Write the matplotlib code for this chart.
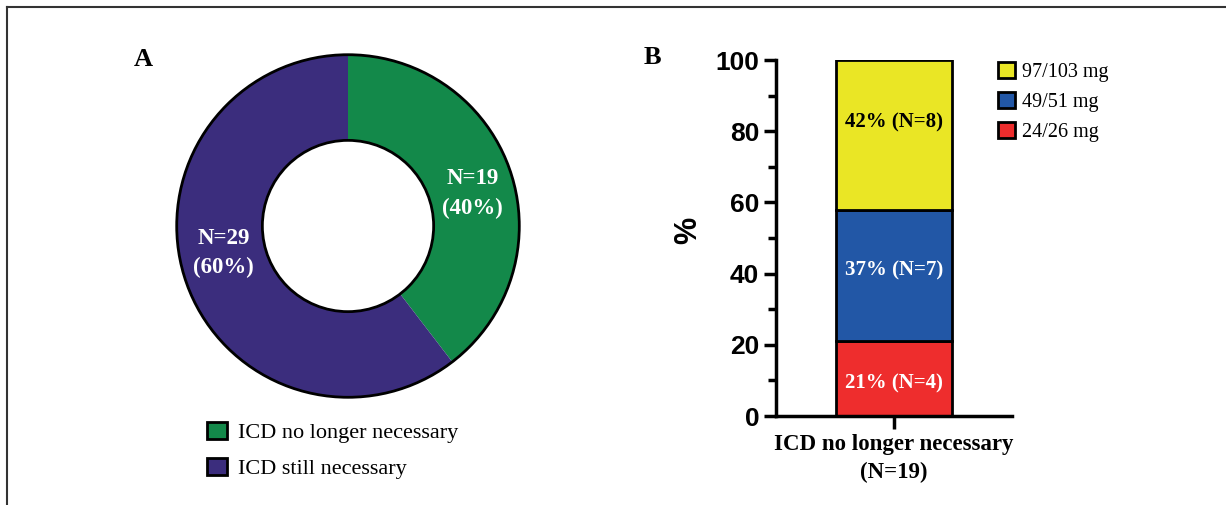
import matplotlib
matplotlib.use("Agg")
import matplotlib.pyplot as plt
from matplotlib.patches import Patch, Circle
from matplotlib.lines import Line2D

# ---- data ----
donut_labels = ["ICD no longer necessary", "ICD still necessary"]
donut_counts = [19, 29]
donut_pct = [40, 60]
donut_colors = ["#13894A", "#3B2D7D"]

dose_labels = ["24/26 mg", "49/51 mg", "97/103 mg"]
dose_counts = [4, 7, 8]
dose_pct_text = [21, 37, 42]
dose_colors = ["#EE2D2D", "#2257A6", "#EAE625"]
dose_text_colors = ["white", "white", "black"]
bar_category = "ICD no longer necessary\n(N=19)"
yticks_major = [0, 20, 40, 60, 80, 100]
yticks_minor = [10, 30, 50, 70, 90]

SERIF = ["Liberation Serif", "DejaVu Serif"]
SANS = ["Liberation Sans", "DejaVu Sans"]

W, H = 1226, 505
fig = plt.figure(figsize=(W / 100, H / 100), dpi=100)

# frame lines (top and left)
fig.add_artist(Line2D([7 / W, 1.0], [1 - 7 / H, 1 - 7 / H], color="#333333", lw=1.5, transform=fig.transFigure))
fig.add_artist(Line2D([7 / W, 7 / W], [0, 1 - 7 / H], color="#333333", lw=1.5, transform=fig.transFigure))

# ---- Panel A: donut ----
cx, cy, r = 348, 226, 173
axA = fig.add_axes([(cx - r) / W, 1 - (cy + r) / H, 2 * r / W, 2 * r / H])
wedges, _ = axA.pie(donut_counts, colors=donut_colors, startangle=90, counterclock=False,
                    radius=1.0, wedgeprops=dict(width=0.5, edgecolor="none", linewidth=0))
axA.add_patch(Circle((0, 0), 1.0, fill=False, ec="black", lw=2))
axA.add_patch(Circle((0, 0), 0.5, fill=False, ec="black", lw=2))
axA.set_xlim(-1.01, 1.01)
axA.set_ylim(-1.01, 1.01)
axA.set_aspect("equal")
axA.axis("off")

label_pos = [(0.727, 0.19), (-0.727, -0.16)]
for (x, y), n, p in zip(label_pos, donut_counts, donut_pct):
    axA.text(x, y, f"N={n}\n({p}%)", ha="center", va="center", color="white",
             fontsize=16.5, fontweight="bold", family=SERIF, linespacing=1.5)

fig.text(143 / W, 1 - 60 / H, "A", ha="center", va="center", fontsize=19, fontweight="bold", family=SERIF)

handlesA = [Patch(facecolor=c, edgecolor="black", linewidth=2) for c in donut_colors]
fig.legend(handlesA, donut_labels, loc="upper left", bbox_to_anchor=(191 / W, 1 - 406 / H),
           frameon=False, prop=dict(family=SERIF, size=16), handlelength=0.9, handleheight=0.85,
           handletextpad=0.5, labelspacing=0.65, borderpad=0.2)

# ---- Panel B: stacked bar ----
axB = fig.add_axes([776 / W, 1 - 416 / H, (1012 - 776) / W, (416 - 60) / H])
label_frac = [0.44, 0.54, 0.585]
bottom = 0
seg_vals = [c / sum(dose_counts) * 100 for c in dose_counts]
for v, col, lab, pt, n, tc, fr in zip(seg_vals, dose_colors, dose_labels, dose_pct_text,
                                      dose_counts, dose_text_colors, label_frac):
    axB.bar([0], [v], bottom=bottom, width=0.98, color=col, edgecolor="black", linewidth=2, label=lab, zorder=2)
    axB.text(0, bottom + v * fr, f"{pt}% (N={n})", ha="center", va="center", color=tc,
             fontsize=15, fontweight="bold", family=SERIF, zorder=3)
    bottom += v

axB.set_xlim(-1, 1)
axB.set_ylim(0, 100)
axB.set_yticks(yticks_major)
axB.set_yticks(yticks_minor, minor=True)
axB.set_xticks([0])
axB.set_xticklabels([bar_category], fontsize=16.5, fontweight="bold", family=SERIF, linespacing=1.4)
for lbl in axB.get_yticklabels():
    lbl.set_fontfamily(SANS)
    lbl.set_fontweight("bold")
    lbl.set_fontsize(19)
axB.tick_params(axis="y", which="major", length=9, width=2.5, pad=3)
axB.tick_params(axis="y", which="minor", length=6, width=2.5)
axB.tick_params(axis="x", which="major", length=9, width=2.5, pad=4)
for s in ["top", "right"]:
    axB.spines[s].set_visible(False)
for s in ["left", "bottom"]:
    axB.spines[s].set_linewidth(2.5)
axB.set_ylabel("%", fontsize=22, fontweight="bold", family=SANS)
axB.yaxis.set_label_coords(-0.31, 0.52)

fig.text(652 / W, 1 - 57 / H, "B", ha="center", va="center", fontsize=19, fontweight="bold", family=SERIF)

h, l = axB.get_legend_handles_labels()
fig.legend(h[::-1], l[::-1], loc="upper left", bbox_to_anchor=(984 / W, 1 - 48 / H),
           frameon=False, prop=dict(family=SERIF, size=14.5), handlelength=0.85, handleheight=0.85,
           handletextpad=0.35, labelspacing=0.5, borderpad=0.2)

fig.savefig("out.png", dpi=100)
